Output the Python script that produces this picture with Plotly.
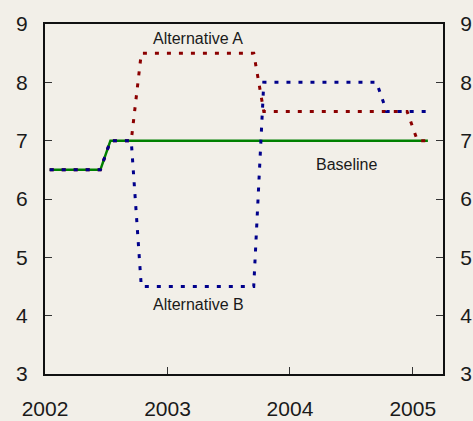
import pandas as pd
import plotly.graph_objects as go

# monthly observations, Jan 2002 - Feb 2005 (plotted mid-month)
months = pd.date_range("2002-01-01", "2005-02-01", freq="MS") + pd.Timedelta(days=14)

baseline = [
    6.5, 6.5, 6.5, 6.5, 6.5, 6.5, 7.0, 7.0, 7.0, 7.0, 7.0, 7.0,
    7.0, 7.0, 7.0, 7.0, 7.0, 7.0, 7.0, 7.0, 7.0, 7.0, 7.0, 7.0,
    7.0, 7.0, 7.0, 7.0, 7.0, 7.0, 7.0, 7.0, 7.0, 7.0, 7.0, 7.0,
    7.0, 7.0,
]
alternative_a = [
    6.5, 6.5, 6.5, 6.5, 6.5, 6.5, 7.0, 7.0, 7.0, 8.5, 8.5, 8.5,
    8.5, 8.5, 8.5, 8.5, 8.5, 8.5, 8.5, 8.5, 8.5, 7.5, 7.5, 7.5,
    7.5, 7.5, 7.5, 7.5, 7.5, 7.5, 7.5, 7.5, 7.5, 7.5, 7.5, 7.5,
    7.0, 7.0,
]
alternative_b = [
    6.5, 6.5, 6.5, 6.5, 6.5, 6.5, 7.0, 7.0, 7.0, 4.5, 4.5, 4.5,
    4.5, 4.5, 4.5, 4.5, 4.5, 4.5, 4.5, 4.5, 4.5, 8.0, 8.0, 8.0,
    8.0, 8.0, 8.0, 8.0, 8.0, 8.0, 8.0, 8.0, 8.0, 7.5, 7.5, 7.5,
    7.5, 7.5,
]

BG = "#f2efe8"
FONT = "Liberation Sans Narrow, Arial Narrow, Liberation Sans, Arial, sans-serif"
TEXT = "#1a1a1a"

fig = go.Figure()
fig.add_trace(go.Scatter(
    x=months, y=baseline, mode="lines", name="Baseline",
    line=dict(color="#008000", width=2.5), hoverinfo="skip",
))
fig.add_trace(go.Scatter(
    x=months, y=alternative_a, mode="lines", name="Alternative A",
    line=dict(color="#8b0000", width=3, dash="4px,8px"),
))
fig.add_trace(go.Scatter(
    x=months, y=alternative_b, mode="lines", name="Alternative B",
    line=dict(color="#00008b", width=3, dash="4px,8px"),
))
# single point on the right-hand axis so that it gets drawn
fig.add_trace(go.Scatter(
    x=months[:1], y=baseline[:1], yaxis="y2", mode="lines",
    hoverinfo="skip", showlegend=False,
))

labels = [
    ("Alternative A", "2003-04-02", 8.76),
    ("Alternative B", "2003-04-02", 4.19),
    ("Baseline", "2004-06-17", 6.6),
]
for text, x, y in labels:
    fig.add_annotation(
        x=x, y=y, xref="x", yref="y", text=text, showarrow=False,
        font=dict(family=FONT, size=16, color=TEXT),
    )

axis_common = dict(
    showline=True, linecolor="#111", linewidth=2,
    ticks="inside", ticklen=7, tickwidth=1, tickcolor="#333",
    showgrid=False, zeroline=False, automargin=False,
    tickfont=dict(family=FONT, size=21, color=TEXT),
)

fig.update_layout(
    width=473, height=421, autosize=False,
    margin=dict(l=45, r=30, t=24, b=47),
    paper_bgcolor=BG, plot_bgcolor=BG,
    showlegend=False,
    xaxis=dict(
        type="date", range=["2002-01-01", "2005-04-01"],
        tickvals=["2002-01-01", "2003-01-01", "2004-01-01", "2005-01-01"],
        ticktext=["2002", "2003", "2004", "2005"],
        mirror=True, ticklabelstandoff=15, **axis_common,
    ),
    yaxis=dict(
        range=[3, 9], dtick=1, tick0=3, side="left",
        ticklabelstandoff=11, **axis_common,
    ),
    yaxis2=dict(
        range=[3, 9], dtick=1, tick0=3, side="right", overlaying="y",
        anchor="x", ticklabelstandoff=11, **axis_common,
    ),
)

# drop the page's default body margin so the figure sits at the corner
fig.write_html(
    "out.html",
    config={"displayModeBar": False},
    post_script="document.body.style.margin='0';"
    f"document.body.style.background='{BG}';",
)
